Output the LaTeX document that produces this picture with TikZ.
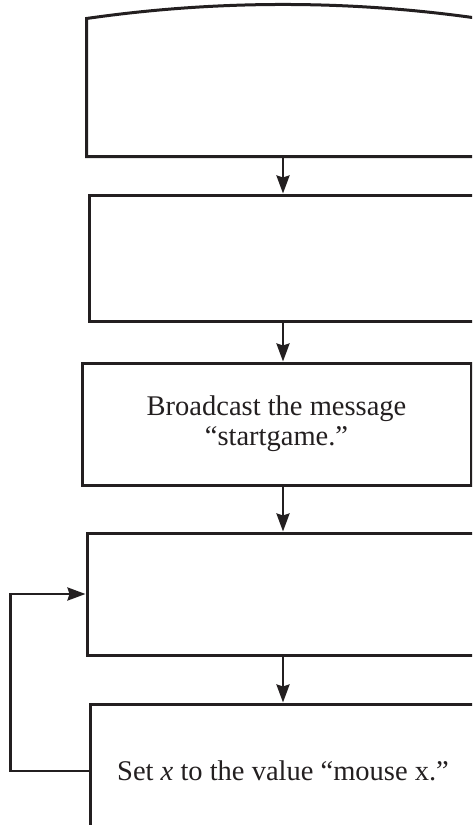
\documentclass[tikz,border=0pt]{standalone}
\usepackage{fontspec}
\setmainfont{Liberation Serif}
\usetikzlibrary{arrows.meta}
\definecolor{ink}{HTML}{231F20}
\begin{document}
\begin{tikzpicture}[x=1pt,y=-1pt,
  line width=3pt,
  stepbox/.style={draw=ink, rectangle, align=center, inner sep=0pt,
    font=\fontsize{28.5}{30}\selectfont, text=ink},
  flow/.style={draw=ink, -{Stealth[length=18pt,width=13pt,inset=2pt]}, line width=2.6pt}]
\useasboundingbox (0,0) rectangle (472,825);
\clip (0,0) rectangle (472,825);
% hat-shaped start block
\node[stepbox, draw=none, minimum width=390pt, minimum height=135pt] (start) at (283,87.5) {};
\draw[ink, line join=miter] (start.south west) -- (start.north west)
  .. controls ++(130,-18.7) and ++(-130,-18.7) .. (start.north east)
  -- (start.south east) -- cycle;
% process blocks
\node[stepbox, minimum width=388pt, minimum height=126pt] (b2) at (283,258) {};
\node[stepbox, minimum width=389pt, minimum height=122pt] (b3) at (276.5,424)
  {Broadcast the message\\“startgame.”};
\node[stepbox, minimum width=392pt, minimum height=122pt] (b4) at (283,594) {};
\node[stepbox, minimum width=386pt, minimum height=134pt] (b5) at (283,771)
  {Set \textit{x} to the value “mouse x.”};
% connectors
\draw[flow] (start.south) -- (start.south |- b2.north);
\draw[flow] (b2.south) -- (b2.south |- b3.north);
\draw[flow] (b4.north |- b3.south) -- (b4.north);
\draw[flow] (b4.south) -- (b4.south |- b5.north);
\draw[flow] (b5.west) -- ++(-78,0) |- (b4.west);
\end{tikzpicture}
\end{document}
